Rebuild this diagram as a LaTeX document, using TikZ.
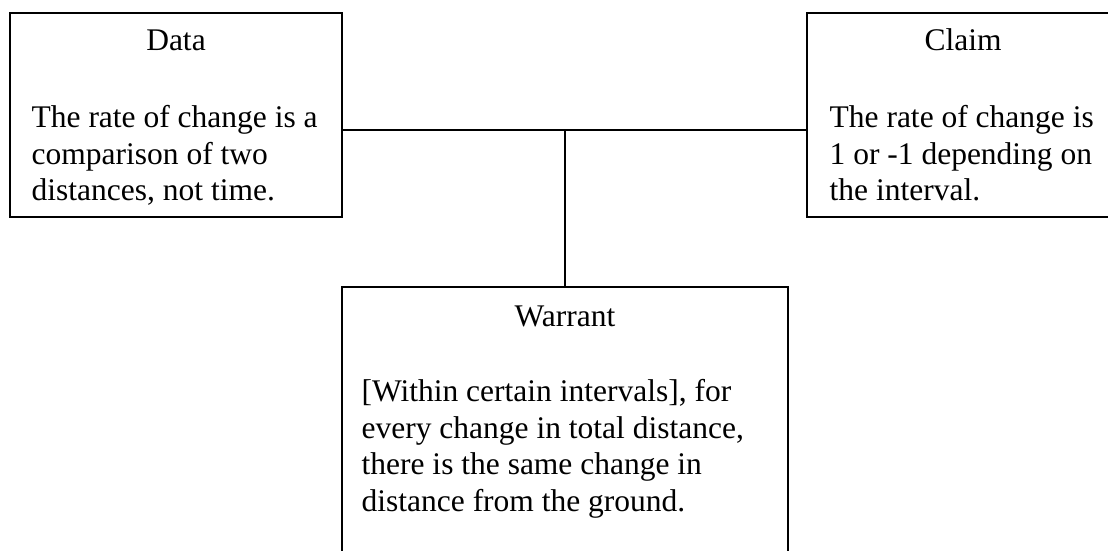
\documentclass[tikz,border=0pt]{standalone}
\usepackage{fontspec}
\setmainfont{Liberation Serif}
\begin{document}
\begin{tikzpicture}[x=1pt,y=-1pt,
  box/.style={draw=black,line width=1.1pt,rectangle,inner sep=0pt},
  title/.style={anchor=base,inner sep=0pt,font=\fontsize{31.5}{36}\selectfont},
  body/.style={anchor=north west,inner sep=0pt,align=left,font=\fontsize{31.5}{36.5}\selectfont},
  link/.style={draw=black,line width=1.8pt}]
  \useasboundingbox (0,0) rectangle (1108,550);
  \clip (0,0) rectangle (1108,550);
  % the three boxes
  \node[box,minimum width=332pt,minimum height=204pt] (data) at (176,115) {};
  \node[box,minimum width=312pt,minimum height=204pt] (claim) at (963,115) {};
  \node[box,minimum width=446pt,minimum height=290pt] (warrant) at (565,432) {};
  % titles
  \node[title] (datat) at ([yshift=-38pt]data.north) {Data};
  \node[title] (claimt) at ([yshift=-38pt]claim.north) {Claim};
  \node[title] (warrantt) at ([yshift=-40pt]warrant.north) {Warrant};
  % texts
  \node[body] (datab) at ([xshift=22pt,yshift=-93pt]data.north west)
    {The rate of change is a\\comparison of two\\distances, not time.};
  \node[body] (claimb) at ([xshift=23pt,yshift=-93pt]claim.north west)
    {The rate of change is\\1 or -1 depending on\\the interval.};
  \node[body] (warrantb) at ([xshift=20pt,yshift=-93pt]warrant.north west)
    {[Within certain intervals], for\\every change in total distance,\\there is the same change in\\distance from the ground.};
  % connectors
  \coordinate (j) at (565,130);
  \draw[link] (data.east |- j) -- (claim.west |- j);
  \draw[link] (j) -- (warrant.north);
\end{tikzpicture}
\end{document}
